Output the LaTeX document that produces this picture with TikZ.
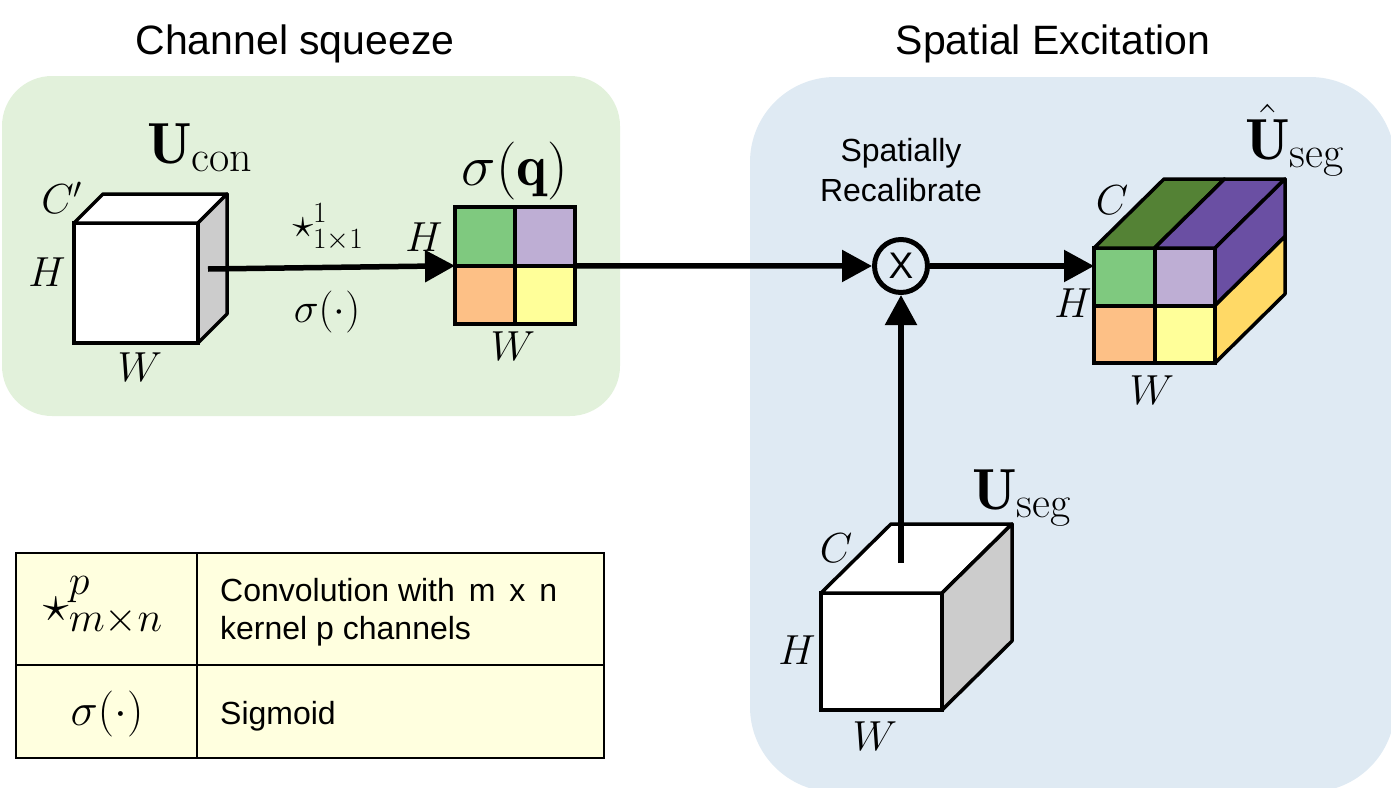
\RequirePackage{fix-cm}
\documentclass[tikz,border=0pt]{standalone}
\usepackage{amsmath}
\usepackage{fontspec}
\setsansfont{Liberation Sans}
\usetikzlibrary{arrows.meta,calc,fit}
\DeclareMathSizes{58}{58}{44}{32}
\DeclareMathSizes{52}{52}{42}{30}
\definecolor{bggreen}{HTML}{E2F1DB}
\definecolor{bgblue}{HTML}{DFEAF3}
\definecolor{cgreen}{HTML}{7FC97F}
\definecolor{cpurple}{HTML}{BEAED4}
\definecolor{corange}{HTML}{FDC086}
\definecolor{cyellow}{HTML}{FFFF99}
\definecolor{dgreen}{HTML}{548235}
\definecolor{dpurple}{HTML}{6A4FA3}
\definecolor{cgold}{HTML}{FFD966}
\definecolor{sidegray}{HTML}{CCCCCC}
\definecolor{tabfill}{HTML}{FFFFDF}
\tikzset{
  cubeln/.style={line width=3.5pt, line join=round},
  arr/.style={line width=5.5pt, -{Triangle[length=30pt,width=31pt]}},
  cell/.style={draw, line width=4pt, inner sep=0pt, outer sep=0pt},
  face/.style={draw, line width=3.5pt, fill=white, inner sep=0pt, outer sep=0pt},
  dimlab/.style={font=\fontsize{42}{48}\selectfont, inner sep=0pt},
  ulab/.style={font=\fontsize{58}{64}\selectfont, inner sep=0pt, anchor=base west},
  title/.style={font=\sffamily\fontsize{41}{48}\selectfont, anchor=base, inner sep=0pt},
  tcell/.style={draw, line width=2.5pt, fill=tabfill, inner sep=0pt, outer sep=0pt},
  ttext/.style={font=\sffamily\fontsize{32}{38}\selectfont, anchor=base west, inner sep=0pt},
}
\begin{document}
\begin{tikzpicture}[x=1pt,y=-1pt]
\useasboundingbox (0,0) rectangle (1391,787);
% backgrounds
\fill[bggreen, rounded corners=50pt] (2,76) rectangle (620,416);
\fill[bgblue, rounded corners=85pt] (750,77) rectangle (1395,792);
% titles
\node[title] (t1) at (295,54) {Channel squeeze};
\node[title] (t2) at (1053,54) {Spatial Excitation};

% left cube U_con
\node[face, minimum width=124pt, minimum height=120pt] (ucon) at (136,283) {};
\draw[cubeln, fill=white] (ucon.north west) -- ++(29,-29) -- ++(124,0) -- (ucon.north east) -- cycle;
\draw[cubeln, fill=sidegray] (ucon.north east) -- ++(29,-29) -- ++(0,120) -- (ucon.south east) -- cycle;
\node[dimlab] (lcc) at (62,198) {$C'$};
\node[dimlab] (lch) at (47,272) {$H$};
\node[dimlab] (lcw) at (140,367) {$W$};
\node[ulab] (lucon) at (147,163) {$\mathbf{U}_{\mathrm{con}}$};

% sigma(q) grid
\node[cell, fill=cgreen, minimum width=60pt, minimum height=58.5pt] (q11) at (485,236.5) {};
\node[cell, fill=cpurple, minimum width=60pt, minimum height=58.5pt] (q12) at (545,236.5) {};
\node[cell, fill=corange, minimum width=60pt, minimum height=58.5pt] (q21) at (485,295) {};
\node[cell, fill=cyellow, minimum width=60pt, minimum height=58.5pt] (q22) at (545,295) {};
\node[fit=(q11)(q22), inner sep=0pt, outer sep=0pt] (sq) {};
\node[font=\fontsize{58}{64}\selectfont, inner sep=0pt] (lsq) at (515,171) {$\sigma(\mathbf{q})$};
\node[dimlab] (lqh) at (424,237) {$H$};
\node[dimlab] (lqw) at (513,346) {$W$};

% arrow 1
\coordinate (a1) at (208,269);
\draw[arr] (a1) -- (sq.west);
\node[font=\fontsize{42}{48}\selectfont, inner sep=0pt] (lconv) at (328,227) {$\star^{1}_{1\times1}$};
\node[font=\fontsize{42}{48}\selectfont, inner sep=0pt] (lsig) at (327,312) {$\sigma(\cdot)$};

% multiply
\node[draw, circle, line width=5pt, minimum size=53pt, inner sep=0pt,
      font=\sffamily\fontsize{37}{40}\selectfont] (mul) at (901,266) {X};
\node[align=center, font=\sffamily\fontsize{32}{40}\selectfont, inner sep=0pt] (lsr) at (901,170) {Spatially\\Recalibrate};
\draw[arr] (sq.east) -- (mul.west);

% right cube U_seg hat
\node[cell, fill=cgreen, minimum width=60.5pt, minimum height=57.5pt] (r11) at (1124.25,276.75) {};
\node[cell, fill=cpurple, minimum width=60.5pt, minimum height=57.5pt] (r12) at (1184.75,276.75) {};
\node[cell, fill=corange, minimum width=60.5pt, minimum height=57.5pt] (r21) at (1124.25,334.25) {};
\node[cell, fill=cyellow, minimum width=60.5pt, minimum height=57.5pt] (r22) at (1184.75,334.25) {};
\node[fit=(r11)(r22), inner sep=0pt, outer sep=0pt] (uhat) {};
\draw[cubeln, fill=dgreen] (r11.north west) -- ++(70,-69) -- ++(60.5,0) -- (r11.north east) -- cycle;
\draw[cubeln, fill=dpurple] (r12.north west) -- ++(70,-69) -- ++(60.5,0) -- (r12.north east) -- cycle;
\draw[cubeln, fill=dpurple] (r12.north east) -- ++(70,-69) -- ++(0,57.5) -- (r12.south east) -- cycle;
\draw[cubeln, fill=cgold] (r22.north east) -- ++(70,-69) -- ++(0,57.5) -- (r22.south east) -- cycle;
\node[dimlab] (lrc) at (1112,200) {$C$};
\node[dimlab] (lrh) at (1073,303) {$H$};
\node[dimlab] (lrw) at (1152,390) {$W$};
\node[ulab] (luhat) at (1245,159) {$\hat{\mathbf{U}}_{\mathrm{seg}}$};
\draw[arr] (mul.east) -- (mul.east -| uhat.west);

% bottom cube U_seg
\node[face, minimum width=121pt, minimum height=117pt] (useg) at (881.5,651.5) {};
\draw[cubeln, fill=white] (useg.north west) -- ++(70,-69) -- ++(121,0) -- (useg.north east) -- cycle;
\draw[cubeln, fill=sidegray] (useg.north east) -- ++(70,-69) -- ++(0,117) -- (useg.south east) -- cycle;
\node[dimlab] (lsc) at (836,548) {$C$};
\node[dimlab] (lsh) at (797,650) {$H$};
\node[dimlab] (lsw) at (875,736) {$W$};
\node[ulab] (luseg) at (972,509) {$\mathbf{U}_{\mathrm{seg}}$};
\coordinate (b1) at (901,563);
\draw[arr] (b1) -- (mul.south);

% legend table
\node[tcell, minimum width=181pt, minimum height=112pt] (t11) at (106.5,609) {};
\node[tcell, minimum width=407pt, minimum height=112pt] (t12) at (400.5,609) {};
\node[tcell, minimum width=181pt, minimum height=93pt] (t21) at (106.5,711.5) {};
\node[tcell, minimum width=407pt, minimum height=93pt] (t22) at (400.5,711.5) {};
\node[font=\fontsize{52}{58}\selectfont, inner sep=0pt] (s1) at (103,606) {$\star^{p}_{m\times n}$};
\node[font=\fontsize{46}{52}\selectfont, inner sep=0pt] (s2) at (107,714) {$\sigma(\cdot)$};
\node[ttext] (x1) at (220,601) {Convolution with\hspace{5pt} m\hspace{5pt} x\hspace{5pt} n};
\node[ttext] (x2) at (220,639) {kernel p channels};
\node[ttext] (x3) at (220,724) {Sigmoid};
\end{tikzpicture}
\end{document}
